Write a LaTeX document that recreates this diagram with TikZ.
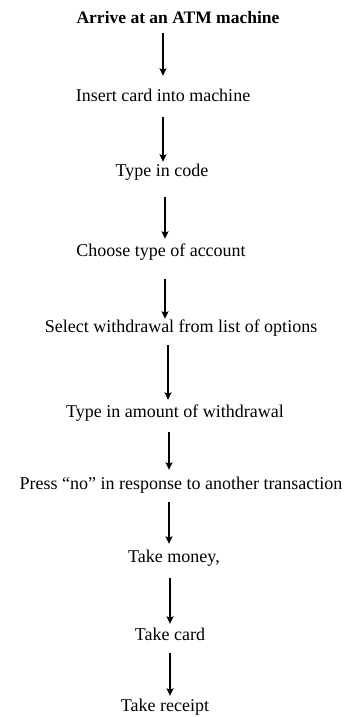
\documentclass[tikz,border=0pt]{standalone}
\usepackage{fontspec}
\setmainfont{Liberation Serif}
\usetikzlibrary{arrows.meta}
\begin{document}
\begin{tikzpicture}[x=1pt,y=-1pt,
  stepnode/.style={inner sep=0pt,text height=11pt,text depth=3pt,font=\fontsize{18}{20}\selectfont},
  arr/.style={line width=1.2pt,-{Stealth[length=7.5pt,width=7pt,inset=1.5pt]}}]
\useasboundingbox (0,0) rectangle (347,717);
\node[stepnode,font=\fontsize{17.5}{20}\selectfont\bfseries] (n1) at (178,20) {Arrive at an ATM machine};
\node[stepnode] (n2) at (163,97) {Insert card into machine};
\node[stepnode] (n3) at (162,172) {Type in code};
\node[stepnode] (n4) at (161,252) {Choose type of account};
\node[stepnode] (n5) at (181,328) {Select withdrawal from list of options};
\node[stepnode] (n6) at (175,413) {Type in amount of withdrawal};
\node[stepnode] (n7) at (181,485) {Press “no” in response to another transaction};
\node[stepnode] (n8) at (174,558) {Take money,};
\node[stepnode] (n9) at (170,636) {Take card};
\node[stepnode] (n10) at (165,707) {Take receipt};
\coordinate (x1) at (163,0);
\coordinate (x2) at (163,0);
\coordinate (x3) at (165,0);
\coordinate (x4) at (165,0);
\coordinate (x5) at (168,0);
\coordinate (x6) at (169,0);
\coordinate (x7) at (169,0);
\coordinate (x8) at (170,0);
\coordinate (x9) at (170,0);
\draw[arr,shorten <=6pt,shorten >=14pt] (n1.south -| x1) -- (n2.north -| x1);
\draw[arr,shorten <=13pt,shorten >=3pt] (n2.south -| x2) -- (n3.north -| x2);
\draw[arr,shorten <=18pt,shorten >=6pt] (n3.south -| x3) -- (n4.north -| x3);
\draw[arr,shorten <=20pt,shorten >=2pt] (n4.south -| x4) -- (n5.north -| x4);
\draw[arr,shorten <=10pt,shorten >=6pt] (n5.south -| x5) -- (n6.north -| x5);
\draw[arr,shorten <=12pt,shorten >=8pt] (n6.south -| x6) -- (n7.north -| x6);
\draw[arr,shorten <=10pt,shorten >=7pt] (n7.south -| x7) -- (n8.north -| x7);
\draw[arr,shorten <=13pt,shorten >=5pt] (n8.south -| x8) -- (n9.north -| x8);
\draw[arr,shorten <=10pt,shorten >=4pt] (n9.south -| x9) -- (n10.north -| x9);
\end{tikzpicture}
\end{document}
